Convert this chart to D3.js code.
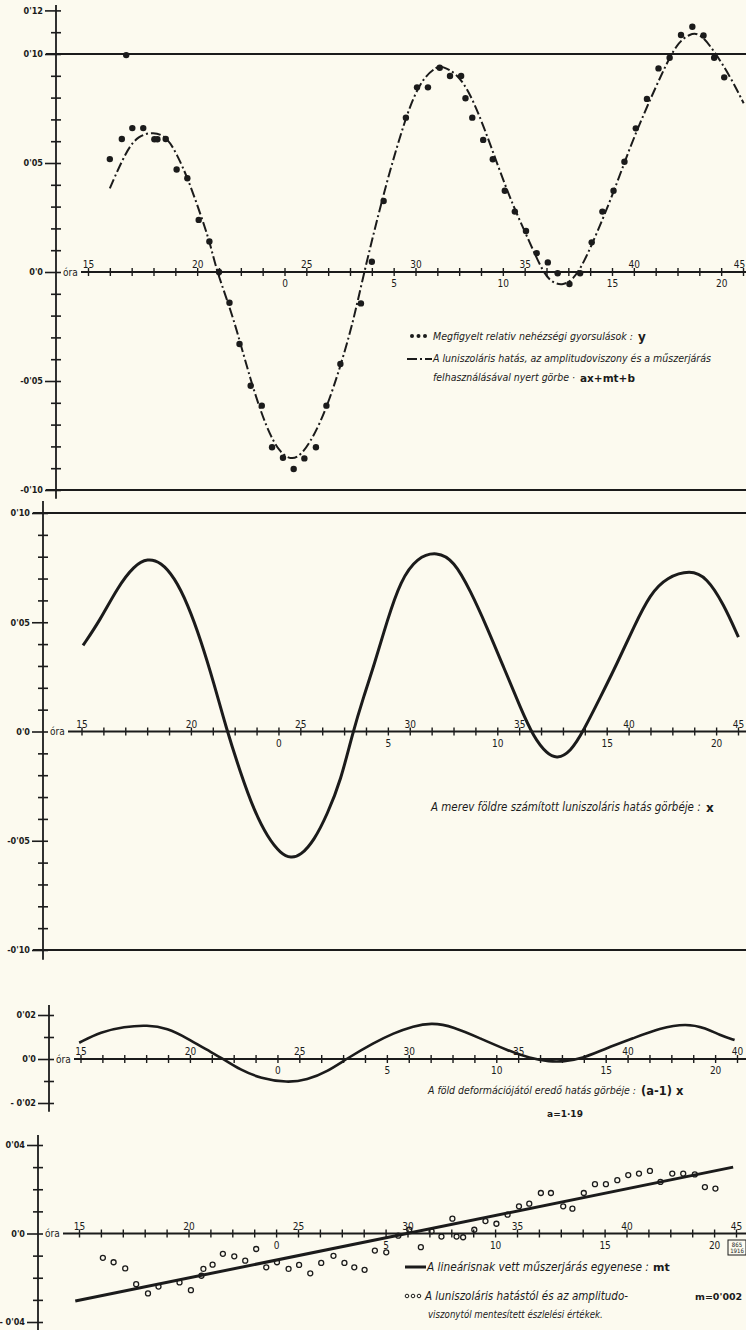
<!DOCTYPE html>
<html>
<head>
<meta charset="utf-8">
<script src="https://cdn.jsdelivr.net/npm/d3@7"></script>
<style>
  html, body { margin: 0; padding: 0; background: #fcfaef; }
  svg { display: block; background: #fcfaef; }
  text { fill: #1b1b1b; font-family: "DejaVu Sans Condensed", "Liberation Sans Narrow", sans-serif; }
  .note { font-family: "Liberation Sans Narrow", "DejaVu Sans Condensed", sans-serif; font-style: italic; font-size: 12px; }
  .sym { font-family: "DejaVu Sans", sans-serif; font-weight: bold; font-size: 11px; }
</style>
</head>
<body>
<svg id="chart" width="746" height="1330"></svg>
<script>
// ---- data ----
const hourTicks = d3.range(15, 46);
const hourLabelVals = [15, 20, 25, 30, 35, 40, 45];
const hourLabels = ["15", "20", "25", "30", "35", "40", "45"];
const hourLabels3 = ["15", "20", "25", "30", "35", "40", "40"]; // misprint on the plate
const dayLabelVals = [24, 29, 34, 39, 44];
const dayLabels = ["0", "5", "10", "15", "20"];

// observed relative gravity y (hour, value)
const observedY = [
  [16.0, 0.0518], [16.55, 0.061], [16.75, 0.0995], [17.03, 0.066], [17.53, 0.066],
  [18.04, 0.0609], [18.18, 0.0609], [18.56, 0.061], [19.06, 0.047], [19.55, 0.043],
  [20.07, 0.0239], [20.56, 0.014], [21.0, 0.0], [21.48, -0.0141], [21.94, -0.033],
  [22.45, -0.0522], [22.96, -0.0613], [23.43, -0.0804], [23.93, -0.0852], [24.42, -0.0904],
  [24.91, -0.0855], [25.44, -0.0804], [25.92, -0.0613], [26.56, -0.0422], [27.5, -0.0144],
  [28.0, 0.0047], [28.54, 0.0326], [29.56, 0.0708], [30.07, 0.0847], [30.57, 0.0847],
  [31.11, 0.0937], [31.58, 0.0899], [32.09, 0.0899], [32.29, 0.0797], [32.6, 0.0708],
  [33.1, 0.0606], [33.54, 0.0517], [34.09, 0.0373], [34.55, 0.0277], [35.06, 0.0188],
  [35.55, 0.0086], [36.06, 0.0044], [36.51, -0.0006], [37.05, -0.0055], [37.54, -0.0006],
  [38.07, 0.0136], [38.56, 0.0277], [39.07, 0.0373], [39.57, 0.0506], [40.09, 0.0659],
  [40.6, 0.0794], [41.13, 0.0934], [41.64, 0.0983], [42.16, 0.1087], [42.68, 0.1125],
  [43.19, 0.1085], [43.68, 0.0983], [44.14, 0.0893]
];

// fitted curve ax+mt+b
const fitCurve = [
  [16.0, 0.0384], [16.77, 0.056], [17.3, 0.0625], [18.0, 0.0644], [18.6, 0.062],
  [19.06, 0.0544], [19.6, 0.0422], [20.14, 0.0269], [20.6, 0.0131], [20.9, 0.0],
  [21.66, -0.0205], [22.43, -0.0495], [23.2, -0.0725], [23.8, -0.083], [24.27, -0.086],
  [24.72, -0.0847], [25.34, -0.0755], [25.95, -0.0618], [26.56, -0.0434], [27.17, -0.022],
  [27.63, -0.0006], [28.54, 0.0361], [29.15, 0.0575], [29.77, 0.0774], [30.38, 0.0896],
  [31.0, 0.0942], [31.2, 0.0945], [31.9, 0.0911], [32.5, 0.082], [33.13, 0.0667],
  [33.8, 0.048], [34.48, 0.03], [35.25, 0.0132], [35.86, -0.0006], [36.3, -0.0052],
  [36.77, -0.006], [37.2, -0.0037], [37.7, 0.004], [38.3, 0.0177], [39.06, 0.0361],
  [39.83, 0.0575], [40.6, 0.0758], [41.36, 0.0927], [41.97, 0.1049], [42.58, 0.1095],
  [43.04, 0.1095], [43.65, 0.1018], [44.42, 0.0896], [45.03, 0.0774]
];

// luni-solar effect on a rigid earth: x
const rigidX = [
  [15.07, 0.0394], [15.84, 0.0508], [16.65, 0.066], [17.41, 0.076], [18.02, 0.0793],
  [18.63, 0.0775], [19.24, 0.0706], [19.85, 0.0584], [20.46, 0.0416], [21.06, 0.0218],
  [21.6, 0.002], [22.28, -0.0194], [22.89, -0.0362], [23.5, -0.0484], [24.11, -0.056],
  [24.57, -0.058], [25.02, -0.0567], [25.63, -0.0499], [26.24, -0.0377], [26.85, -0.0224],
  [27.38, -0.001], [27.91, 0.0165], [28.36, 0.030], [28.97, 0.0508], [29.58, 0.0691],
  [30.34, 0.0798], [31.25, 0.0824], [32.01, 0.0783], [32.77, 0.0645], [33.53, 0.0477],
  [34.29, 0.0294], [35.05, 0.0111], [35.66, -0.0026], [36.27, -0.0102], [36.73, -0.0125],
  [37.34, -0.0095], [37.95, 0.0005], [38.71, 0.0157], [39.47, 0.031], [40.23, 0.0477],
  [40.99, 0.063], [41.75, 0.0706], [42.82, 0.074], [43.57, 0.0706], [44.34, 0.0584],
  [45.02, 0.0432]
];

// deformation effect (a-1)x
const deformX = [
  [14.94, 0.0074], [15.93, 0.0124], [16.99, 0.0147], [18.06, 0.0155], [18.97, 0.014],
  [19.88, 0.0094], [20.79, 0.0041], [21.48, 0.0003], [22.31, -0.005], [23.23, -0.0088],
  [24.44, -0.0108], [25.36, -0.0095], [26.27, -0.0058], [27.19, 0.0003], [28.39, 0.0073],
  [29.3, 0.0117], [30.21, 0.015], [31.05, 0.0165], [32.04, 0.0147], [33.26, 0.0094],
  [34.47, 0.0041], [35.54, 0.0003], [36.45, -0.0012], [37.05, -0.0012], [37.97, 0.0003],
  [39.03, 0.0049], [40.25, 0.0094], [41.47, 0.014], [42.68, 0.0162], [43.59, 0.014],
  [44.2, 0.0109], [44.89, 0.0086]
];

// instrument drift line mt (end points)
const driftLine = [[14.83, -0.0305], [44.87, 0.0300]];

// observations freed from luni-solar effect
const residuals = [
  [16.09, -0.011], [16.58, -0.013], [17.11, -0.0158], [17.61, -0.0229], [18.15, -0.0271],
  [18.63, -0.024], [19.59, -0.0221], [20.11, -0.0256], [20.59, -0.0191], [20.68, -0.016],
  [21.10, -0.0141], [21.57, -0.0092], [22.09, -0.0103], [22.59, -0.0123], [23.09, -0.007],
  [23.55, -0.0153], [24.04, -0.013], [24.57, -0.016], [25.05, -0.0142], [25.56, -0.018],
  [26.06, -0.0133], [26.62, -0.0101], [27.12, -0.0133], [27.57, -0.0153], [28.04, -0.0164],
  [28.51, -0.0077], [29.03, -0.0085], [29.58, -0.001], [30.08, 0.0017], [30.61, -0.0062],
  [31.1, 0.001], [31.55, -0.0014], [32.05, 0.0067], [32.24, -0.0014], [32.54, -0.0017],
  [33.05, 0.0017], [33.56, 0.0056], [34.06, 0.0044], [34.57, 0.0085], [35.09, 0.0123],
  [35.56, 0.0135], [36.09, 0.0183], [36.55, 0.0183], [37.11, 0.0123], [37.53, 0.0112],
  [38.05, 0.0183], [38.56, 0.0223], [39.06, 0.0223], [39.58, 0.0241], [40.08, 0.0264],
  [40.57, 0.0271], [41.07, 0.0283], [41.55, 0.0233], [42.09, 0.0271], [42.59, 0.0271],
  [43.12, 0.0267], [43.58, 0.021], [44.06, 0.0203]
];

const yTicks1 = d3.range(-10, 13).map(d => d / 100);
const yLabelVals1 = [0.12, 0.10, 0.05, 0, -0.05, -0.10];
const yLabels1 = ["0'12", "0'10", "0'05", "0'0", "-0'05", "-0'10"];
const yTicks2 = d3.range(-10, 11).map(d => d / 100);
const yLabelVals2 = [0.10, 0.05, 0, -0.05, -0.10];
const yLabels2 = ["0'10", "0'05", "0'0", "-0'05", "-0'10"];
const yTicks3 = [-0.02, -0.01, 0, 0.01, 0.02];
const yLabelVals3 = [0.02, 0, -0.02];
const yLabels3 = ["0'02", "0'0", "- 0'02"];
const yTicks4 = d3.range(-4, 5).map(d => d / 100);
const yLabelVals4 = [0.04, 0, -0.04];
const yLabels4 = ["0'04", "0'0", "- 0'04"];

// ---- drawing ----
const ink = "#1b1b1b";
const W = 746;
const svg = d3.select("#chart");

function yAxis(scale, axisX, ticks, labelVals, labels, span) {
  const isLab = d => labelVals.some(v => Math.abs(v - d) < 1e-9);
  const ax = d3.axisLeft(scale).tickValues(ticks).tickSize(0).tickPadding(13)
    .tickFormat(d => { const i = labelVals.findIndex(v => Math.abs(v - d) < 1e-9); return i < 0 ? "" : labels[i]; });
  const g = svg.append("g").attr("transform", `translate(${axisX},0)`).call(ax);
  g.select(".domain").remove();
  g.selectAll(".tick line")
    .attr("x1", d => isLab(d) ? -11 : -5).attr("x2", 5)
    .attr("stroke", ink).attr("stroke-width", 1.6);
  g.selectAll(".tick text").attr("fill", ink)
    .style("font-size", "9px").style("font-weight", "bold");
  svg.append("line")
    .attr("x1", axisX).attr("x2", axisX)
    .attr("y1", scale(span[0])).attr("y2", scale(span[1]))
    .attr("stroke", ink).attr("stroke-width", 1.8);
}

function xAxis(scale, yScale, axisX, topLabels) {
  const y0 = yScale(0);
  svg.append("line")
    .attr("x1", axisX + 25).attr("x2", W).attr("y1", y0).attr("y2", y0)
    .attr("stroke", ink).attr("stroke-width", 2);
  svg.append("text").attr("x", axisX + 7).attr("y", y0 + 3.5)
    .style("font-size", "10px").text("óra");
  const minor = svg.append("g").attr("transform", `translate(0,${y0})`)
    .call(d3.axisBottom(scale).tickValues(hourTicks).tickFormat("").tickSizeOuter(0));
  minor.select(".domain").remove();
  minor.selectAll(".tick line").attr("y1", -4).attr("y2", 4)
    .attr("stroke", ink).attr("stroke-width", 1.4);
  const top = svg.append("g").attr("transform", `translate(0,${y0})`)
    .call(d3.axisTop(scale).tickValues(hourLabelVals).tickFormat((d, i) => topLabels[i]).tickSize(0).tickPadding(4));
  top.select(".domain").remove();
  top.selectAll("text").attr("fill", ink).style("font-size", "10px")
    .attr("dx", d => scale(d) > 740 ? -4 : 0);
  const bot = svg.append("g").attr("transform", `translate(0,${y0})`)
    .call(d3.axisBottom(scale).tickValues(dayLabelVals).tickFormat((d, i) => dayLabels[i]).tickSize(0).tickPadding(8));
  bot.select(".domain").remove();
  bot.selectAll("text").attr("fill", ink).style("font-size", "10px");
}

function hLine(yScale, v, x0) {
  svg.append("line").attr("x1", x0).attr("x2", W)
    .attr("y1", yScale(v)).attr("y2", yScale(v))
    .attr("stroke", ink).attr("stroke-width", 2);
}

// place a caption and size its font so its natural width equals len
function note(x, y, str, len, cls) {
  const t = svg.append("text").attr("class", cls || "note").attr("x", x).attr("y", y).text(str);
  if (len) {
    const base = parseFloat(getComputedStyle(t.node()).fontSize);
    const w = t.node().getComputedTextLength();
    t.style("font-size", (base * len / w).toFixed(2) + "px");
  }
  return t;
}

const smooth = d3.curveBasis;

// panel 1: observed y and fitted ax+mt+b
const x1 = d3.scaleLinear().domain([15, 45]).range([88, 743]);
const y1 = d3.scaleLinear().domain([-0.10, 0.10]).range([490, 54]);
yAxis(y1, 56, yTicks1, yLabelVals1, yLabels1, [0.1225, -0.104]);
hLine(y1, 0.10, 46);
hLine(y1, -0.10, 46);
xAxis(x1, y1, 56, hourLabels);

svg.append("path").datum(fitCurve)
  .attr("d", d3.line().x(d => x1(d[0])).y(d => y1(d[1])).curve(smooth))
  .attr("fill", "none").attr("stroke", ink).attr("stroke-width", 2)
  .attr("stroke-dasharray", "10,3,2,3");
svg.append("g").selectAll("circle").data(observedY).join("circle")
  .attr("cx", d => x1(d[0])).attr("cy", d => y1(d[1])).attr("r", 3.2).attr("fill", ink);

svg.append("g").selectAll("circle").data([0, 1, 2]).join("circle")
  .attr("cx", d => 412 + d * 6.5).attr("cy", 336).attr("r", 2).attr("fill", ink);
note(433, 340, "Megfigyelt relativ nehézségi gyorsulások :", 200);
note(638, 341, "y").attr("class", "sym").style("font-size", "12px");
svg.append("path").attr("d", "M407,359H432")
  .attr("stroke", ink).attr("stroke-width", 2).attr("stroke-dasharray", "10,3,2,3");
note(433, 362, "A luniszoláris hatás, az amplitudoviszony és a műszerjárás", 278);
note(433, 381, "felhasználásával nyert görbe ·", 142);
note(580, 382, "ax+mt+b").attr("class", "sym").style("font-size", "10.5px");

// panel 2: rigid earth luni-solar effect x
const x2 = d3.scaleLinear().domain([15, 45]).range([81.5, 738]);
const y2 = d3.scaleLinear().domain([-0.10, 0.10]).range([950, 513]);
yAxis(y2, 43, yTicks2, yLabelVals2, yLabels2, [0.1055, -0.1045]);
hLine(y2, 0.10, 33);
hLine(y2, -0.10, 33);
xAxis(x2, y2, 43, hourLabels);
svg.append("path").datum(rigidX)
  .attr("d", d3.line().x(d => x2(d[0])).y(d => y2(d[1])).curve(smooth))
  .attr("fill", "none").attr("stroke", ink).attr("stroke-width", 3);
note(431, 811, "A merev földre számított luniszoláris hatás görbéje :", 270);
note(706, 812, "x").attr("class", "sym").style("font-size", "12px");

// panel 3: deformation effect (a-1)x
const x3 = d3.scaleLinear().domain([15, 45]).range([80.5, 737]);
const y3 = d3.scaleLinear().domain([-0.02, 0.02]).range([1103, 1015]);
yAxis(y3, 49, yTicks3, yLabelVals3, yLabels3, [0.0245, -0.024]);
xAxis(x3, y3, 49, hourLabels3);
svg.append("path").datum(deformX)
  .attr("d", d3.line().x(d => x3(d[0])).y(d => y3(d[1])).curve(smooth))
  .attr("fill", "none").attr("stroke", ink).attr("stroke-width", 2.6);
note(428, 1094, "A föld deformációjától eredő hatás görbéje :", 208);
note(641, 1095, "(a-1) x").attr("class", "sym").style("font-size", "11.5px");
note(565, 1117, "a=1·19").attr("class", "sym").attr("text-anchor", "middle").style("font-size", "9px");

// panel 4: instrument drift mt and freed observations
const x4 = d3.scaleLinear().domain([15, 45]).range([79, 736]);
const y4 = d3.scaleLinear().domain([-0.04, 0.04]).range([1322, 1145]);
yAxis(y4, 38, yTicks4, yLabelVals4, yLabels4, [0.0445, -0.0455]);
xAxis(x4, y4, 38, hourLabels);
svg.append("path").datum(driftLine)
  .attr("d", d3.line().x(d => x4(d[0])).y(d => y4(d[1])))
  .attr("fill", "none").attr("stroke", ink).attr("stroke-width", 3);
svg.append("g").selectAll("circle").data(residuals).join("circle")
  .attr("cx", d => x4(d[0])).attr("cy", d => y4(d[1])).attr("r", 2.5)
  .attr("fill", "none").attr("stroke", ink).attr("stroke-width", 1.3);

svg.append("line").attr("x1", 405).attr("x2", 426).attr("y1", 1267).attr("y2", 1267)
  .attr("stroke", ink).attr("stroke-width", 3);
note(427, 1271, "A lineárisnak vett műszerjárás egyenese :", 222);
note(653, 1271, "mt").attr("class", "sym").style("font-size", "11px");
svg.append("g").selectAll("circle").data([0, 1, 2]).join("circle")
  .attr("cx", d => 407 + d * 6).attr("cy", 1296).attr("r", 1.8)
  .attr("fill", "none").attr("stroke", ink).attr("stroke-width", 1);
note(425, 1300, "A luniszoláris hatástól és az amplitudo-", 203);
note(695, 1300, "m=0'002").attr("class", "sym").style("font-size", "9.5px");
note(428, 1318, "viszonytól mentesített észlelési értékek.", 175);

// printer's stamp
const stamp = svg.append("g").attr("transform", "translate(728,1240)");
stamp.append("rect").attr("width", 18).attr("height", 15).attr("fill", "none")
  .attr("stroke", ink).attr("stroke-width", 1);
stamp.append("text").attr("x", 9).attr("y", 6.5).attr("text-anchor", "middle").style("font-size", "6px").text("865");
stamp.append("text").attr("x", 9).attr("y", 13).attr("text-anchor", "middle").style("font-size", "6px").text("1916");
</script>
</body>
</html>
